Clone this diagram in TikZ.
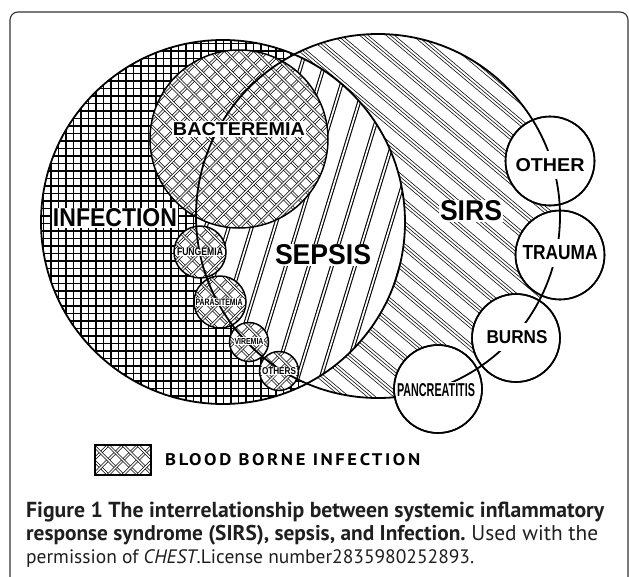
\documentclass[tikz,border=0pt]{standalone}
\usepackage{fontspec}
\setmainfont{PT Sans}
\newfontfamily\labfont{Liberation Sans}
\usetikzlibrary{calc}
\newcommand{\mylab}[3]{\resizebox{#1pt}{#2pt}{\labfont\bfseries #3}}
\tikzset{
  lab/.style={fill=white, inner sep=1pt},
  satlab/.style={fill=white, inner xsep=1pt, inner ysep=7pt},
  bigline/.style={line width=1.8pt},
  satcirc/.style={circle, draw, line width=1.6pt, fill=white, inner sep=0pt},
  smallcirc/.style={line width=1.5pt},
  gridline/.style={line width=1.1pt},
  fineline/.style={line width=0.55pt},
  stripe/.style={draw=black, line width=1.1pt, double=white, double distance=1.7pt},
  xhatch/.style={draw=black, line width=0.7pt, double=white, double distance=1.4pt},
  captxt/.style={anchor=base west, inner sep=0pt, text=black!88},
}
\newcommand{\xhfill}[3]{%
  \begin{scope}
    \clip (#1,#2) circle[radius=#3];
    \fill[white] (#1,#2) circle[radius=#3];
    \begin{scope}[shift={(#1,#2)}, rotate=45]
      \foreach \ii in {-94.5,-84,...,95} {
        \draw[xhatch] (-100,\ii) -- (100,\ii);
        \draw[xhatch] (\ii,-100) -- (\ii,100);
      }
    \end{scope}
  \end{scope}}
\begin{document}
\begin{tikzpicture}[x=1pt,y=-1pt]
\useasboundingbox (0,0) rectangle (629,576);
% frame
\draw[line width=1.1pt, draw=black!80, rounded corners=8pt] (10,12) rectangle (628,590);

% SIRS region fine hatch
\begin{scope}
  \clip (378,216) circle[radius=182];
  \fill[white] (378,216) circle[radius=182];
  \begin{scope}[shift={(378,216)}, rotate=-40]
    \foreach \ii in {-200,-183,...,200} {
      \foreach \jj in {0,2.7,5.4} {
        \draw[fineline] (-200,{\ii+\jj}) -- (200,{\ii+\jj});
      }
    }
  \end{scope}
\end{scope}

% Infection grid
\begin{scope}
  \clip (223,222) circle[radius=182];
  \fill[white] (223,222) circle[radius=182];
  \foreach \ii in {36,43.5,...,412} {
    \draw[gridline] (\ii,36) -- (\ii,410);
    \draw[gridline] (36,\ii) -- (410,\ii);
  }
\end{scope}

% Sepsis stripes
\begin{scope}
  \clip (223,222) circle[radius=182];
  \clip (378,216) circle[radius=182];
  \fill[white] (300,220) circle[radius=200];
  \begin{scope}[shift={(300,220)}, rotate=73]
    \foreach \ii in {-220,-198,...,220} {
      \draw[stripe] (-220,\ii) -- (220,\ii);
    }
  \end{scope}
\end{scope}

% blood borne circles
\xhfill{239}{139}{89}
\xhfill{200}{252}{26}
\xhfill{220}{302}{26}
\xhfill{249}{342}{19.5}
\xhfill{279}{371}{19.5}

% outlines
\draw[bigline] (223,222) circle[radius=182];
\draw[smallcirc] (239,139) circle[radius=89];
\draw[smallcirc] (200,252) circle[radius=26];
\draw[smallcirc] (220,302) circle[radius=26];
\draw[smallcirc] (249,342) circle[radius=19.5];
\draw[smallcirc] (279,371) circle[radius=19.5];

% satellite circles
\node[satcirc, minimum size=89pt] (othc) at (550,161) {};
\node[satcirc, minimum size=89pt] (trac) at (560,255) {};
\node[satcirc, minimum size=88pt] (burc) at (516,338) {};
\node[satcirc, minimum size=88pt] (panc) at (438,389) {};

% SIRS outline on top
\draw[bigline] (378,216) circle[radius=182];

% labels
\node[lab] (infl) at (115,218) {\mylab{124}{18}{INFECTION}};
\node[lab] (bacl) at (239,129) {\mylab{132}{13}{BACTEREMIA}};
\node[lab] (sepl) at (323,255) {\mylab{96}{20}{SEPSIS}};
\node[lab] (sirl) at (471,211) {\mylab{62}{20}{SIRS}};
\node[lab, inner sep=0.6pt] (funl) at (200,252) {\mylab{46}{7.5}{FUNGEMIA}};
\node[lab, inner sep=0.6pt] (parl) at (219,302) {\mylab{47}{6.5}{PARASITEMIA}};
\node[lab, inner sep=0.6pt] (virl) at (249,341) {\mylab{29}{6}{VIREMIA}};
\node[lab, inner sep=0.6pt] (oisl) at (279,371) {\mylab{34}{7}{OTHERS}};
\node[satlab] (othl) at (550,165) {\mylab{69}{13}{OTHER}};
\node[satlab] (tral) at (560,253) {\mylab{75}{14}{TRAUMA}};
\node[satlab] (burl) at (517,337) {\mylab{61}{13}{BURNS}};
\node[lab] (panl) at (436,390) {\mylab{78}{13}{PANCREATITIS}};

% redraw satellite outlines
\draw[line width=1.6pt] (othc.center) circle[radius=44.5];
\draw[line width=1.6pt] (trac.center) circle[radius=44.5];
\draw[line width=1.6pt] (burc.center) circle[radius=44];
\draw[line width=1.6pt] (panc.center) circle[radius=44];

% legend
\begin{scope}
  \clip (95,445) rectangle (151,475);
  \begin{scope}[shift={(123,460)}, rotate=45]
    \foreach \ii in {-42,-31.5,...,43} {
      \draw[xhatch] (-50,\ii) -- (50,\ii);
      \draw[xhatch] (\ii,-50) -- (\ii,50);
    }
  \end{scope}
\end{scope}
\node[draw, line width=1.3pt, minimum width=56pt, minimum height=30pt, inner sep=0pt] (legbox) at (123,460) {};
\node[anchor=west, inner sep=0pt] (legtxt) at (165,460) {\resizebox{255pt}{12pt}{\bfseries\addfontfeatures{LetterSpace=14}BLOOD BORNE INFECTION}};

% caption
\node[captxt] (cap1) at (26,517) {\resizebox{578pt}{!}{\bfseries Figure 1 The interrelationship between systemic inflammatory}};
\node[captxt] (cap2) at (26,540) {\resizebox{572pt}{!}{\bfseries response syndrome (SIRS), sepsis, and Infection.\mdseries\ Used with the}};
\node[captxt] (cap3) at (26,563) {\resizebox{448pt}{!}{permission of \textit{CHEST}.License number2835980252893.}};
\end{tikzpicture}
\end{document}
